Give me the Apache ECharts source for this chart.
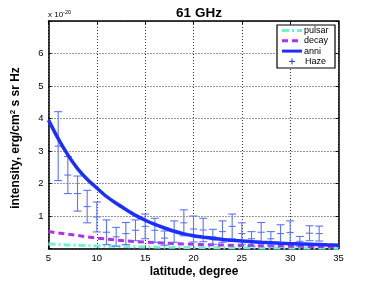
<!DOCTYPE html>
<html>
<head>
<meta charset="utf-8">
<script src="https://cdn.jsdelivr.net/npm/echarts@6/dist/echarts.min.js"></script>
<style>html,body{margin:0;padding:0;background:#fff}#c{width:374px;height:281px}</style>
</head>
<body>
<div id="c"></div>
<script>
// latitude grid for model curves
var latModel = [5,6,7,8,9,10,11,12,13,14,15,16,17,18,19,20,21,22,23,24,25,26,27,28,29,30,31,32,33,34,35];
var anni   = [3.95,3.38,2.88,2.46,2.13,1.86,1.6,1.39,1.2,1.02,0.87,0.74,0.63,0.53,0.45,0.39,0.35,0.31,0.28,0.25,0.23,0.21,0.19,0.175,0.16,0.15,0.14,0.13,0.12,0.11,0.10];
var decay  = [0.52,0.48,0.44,0.40,0.36,0.32,0.29,0.26,0.235,0.215,0.195,0.18,0.165,0.15,0.14,0.13,0.122,0.115,0.108,0.10,0.095,0.09,0.085,0.08,0.075,0.07,0.066,0.062,0.058,0.054,0.05];
var pulsar = [0.14,0.125,0.11,0.10,0.09,0.08,0.072,0.065,0.058,0.052,0.047,0.043,0.04,0.037,0.034,0.031,0.029,0.027,0.025,0.023,0.021,0.02,0.019,0.018,0.017,0.016,0.015,0.014,0.013,0.012,0.011];
// haze data with symmetric error bars
var hazeLat = [6,7,8,9,10,11,12,13,14,15,16,17,18,19,20,21,22,23,24,25,26,27,28,29,30,31,32,33];
var hazeVal = [3.15,2.26,1.69,1.29,0.97,0.50,0.36,0.46,0.56,0.68,0.56,0.32,0.52,0.79,0.60,0.57,0.36,0.52,0.68,0.46,0.30,0.50,0.30,0.46,0.49,0.22,0.47,0.46];
var hazeErr = [1.06,0.57,0.54,0.50,0.46,0.38,0.29,0.34,0.32,0.38,0.37,0.22,0.33,0.40,0.40,0.36,0.23,0.33,0.38,0.33,0.22,0.30,0.22,0.27,0.36,0.15,0.23,0.23];
var xTicks = [5,10,15,20,25,30,35];
var yTickLabels = ['1','2','3','4','5','6'];
var legendNames = ['pulsar','decay','anni','Haze'];

function zip(a,b){return a.map(function(v,i){return [v,b[i]];});}
var hazeData = hazeLat.map(function(x,i){return [x,hazeVal[i],hazeErr[i]];});

var chart = echarts.init(document.getElementById('c'), null, {renderer:'canvas'});
var FONT = 'Liberation Sans, Arial, Helvetica, sans-serif';
var C_PULSAR='#6ff2d2', C_DECAY='#b030f0', C_ANNI='#1a2eff', C_HAZE='#5a74ff';
var axisCommon = {
  type:'value',
  axisLine:{show:true,onZero:false,lineStyle:{color:'#000',width:1.5}},
  axisTick:{show:true,inside:true,length:3,lineStyle:{color:'#000',width:1}},
  splitLine:{show:false}
};

// legend built from graphic elements (box + samples)
var LX=277, LY=25, LW=58, LH=43, rowH=10.3;
var legendStyles=[
  {stroke:C_PULSAR,lineWidth:3,lineDash:[7,3,2,3]},
  {stroke:C_DECAY,lineWidth:3,lineDash:[6,4]},
  {stroke:C_ANNI,lineWidth:3}
];
var legendGraphics=[{type:'rect',shape:{x:LX,y:LY,width:LW,height:LH},style:{fill:'#fff',stroke:'#000',lineWidth:1.2},z:100}];
legendNames.forEach(function(n,i){
  var cy=LY+5.5+i*rowH;
  if(i<3){
    legendGraphics.push({type:'line',shape:{x1:LX+5,y1:cy,x2:LX+25,y2:cy},style:legendStyles[i],z:101});
  } else {
    legendGraphics.push({type:'line',shape:{x1:LX+12,y1:cy,x2:LX+18,y2:cy},style:{stroke:C_ANNI,lineWidth:1},z:101});
    legendGraphics.push({type:'line',shape:{x1:LX+15,y1:cy-3,x2:LX+15,y2:cy+3},style:{stroke:C_ANNI,lineWidth:1},z:101});
  }
  legendGraphics.push({type:'text',x:(i<3?LX+27:LX+28),y:cy,style:{text:n,fontFamily:FONT,fontSize:9,fill:'#000',textVerticalAlign:'middle'},z:101});
});

chart.setOption({
  animation:false,
  backgroundColor:'#fff',
  title:{text:'61 GHz',left:194,top:1,textAlign:'center',textStyle:{fontFamily:FONT,fontSize:13.5,fontWeight:'bold',color:'#000'}},
  grid:{left:48.5,right:35.5,top:21,bottom:32.5},
  xAxis:[
    Object.assign({},axisCommon,{min:5,max:35,interval:5,position:'bottom',
      axisLabel:{show:true,fontFamily:FONT,fontSize:9.5,color:'#000',margin:5},
      splitLine:{show:true,lineStyle:{color:'#000',type:[1,2],width:0.8}}}),
    Object.assign({},axisCommon,{min:5,max:35,interval:5,position:'top',axisLabel:{show:false}})
  ],
  yAxis:[
    Object.assign({},axisCommon,{min:0,max:7,interval:1,position:'left',
      axisLabel:{show:true,fontFamily:FONT,fontSize:9.5,color:'#000',margin:5,
        formatter:function(v){var i=yTickLabels.indexOf(String(v));return i>=0?yTickLabels[i]:'';}},
      splitLine:{show:true,lineStyle:{color:'#000',type:[1,2],width:0.8}}}),
    Object.assign({},axisCommon,{min:0,max:7,interval:1,position:'right',axisLabel:{show:false}})
  ],
  graphic:[
    {type:'text',left:48,top:9,style:{rich:{a:{fontSize:8,fontFamily:FONT,fill:'#000'},s:{fontSize:5.5,fontFamily:FONT,fill:'#000',verticalAlign:'top',padding:[0,0,5,0]}},text:'{a|x 10}{s|-20}'}},
    {type:'text',x:194,y:266,style:{text:'latitude, degree',fontFamily:FONT,fontSize:12,fontWeight:'bold',fill:'#000',textAlign:'center',textVerticalAlign:'top'}},
    {type:'text',x:16,y:138,rotation:Math.PI/2,style:{
      rich:{a:{fontFamily:FONT,fontSize:12,fontWeight:'bold',fill:'#000'},s:{fontFamily:FONT,fontSize:8,fontWeight:'bold',fill:'#000',verticalAlign:'top',padding:[0,0,7,0]}},
      text:'{a|intensity, erg/cm}{s|2}{a| s sr Hz}',textAlign:'center',textVerticalAlign:'middle'}}
  ].concat(legendGraphics),
  series:[
    {name:'pulsar',type:'line',data:zip(latModel,pulsar),showSymbol:false,symbol:'none',
      lineStyle:{color:C_PULSAR,width:3,type:[7,3,2,3]},itemStyle:{color:C_PULSAR},z:3},
    {name:'decay',type:'line',data:zip(latModel,decay),showSymbol:false,symbol:'none',
      lineStyle:{color:C_DECAY,width:3,type:[6,4]},itemStyle:{color:C_DECAY},z:3},
    {name:'Haze',type:'custom',data:hazeData,encode:{x:0,y:1},itemStyle:{color:C_HAZE},z:4,
      renderItem:function(params,api){
        var x=api.value(0),v=api.value(1),e=api.value(2);
        var top=api.coord([x,v+e]),bot=api.coord([x,v-e]),mid=api.coord([x,v]);
        var cw=4,mw=3.5;
        var st={stroke:C_HAZE,lineWidth:1.1};
        return {type:'group',children:[
          {type:'line',shape:{x1:top[0],y1:top[1],x2:bot[0],y2:bot[1]},style:st},
          {type:'line',shape:{x1:top[0]-cw,y1:top[1],x2:top[0]+cw,y2:top[1]},style:st},
          {type:'line',shape:{x1:bot[0]-cw,y1:bot[1],x2:bot[0]+cw,y2:bot[1]},style:st},
          {type:'line',shape:{x1:mid[0]-mw,y1:mid[1],x2:mid[0]+mw,y2:mid[1]},style:st}
        ]};
      }},
    {name:'anni',type:'line',data:zip(latModel,anni),showSymbol:false,symbol:'none',smooth:0.3,
      lineStyle:{color:C_ANNI,width:3.5},itemStyle:{color:C_ANNI},z:5}
  ]
});
</script>
</body>
</html>
